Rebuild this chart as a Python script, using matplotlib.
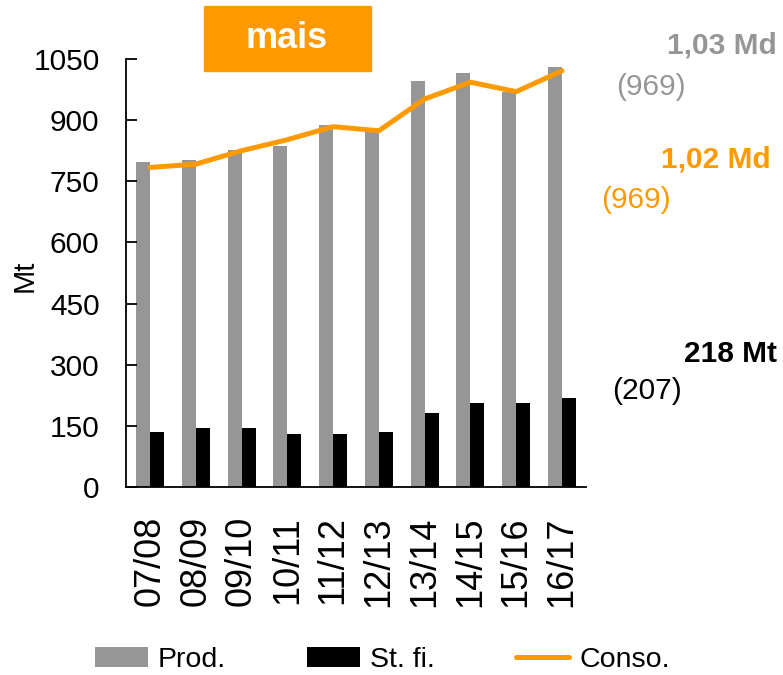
import matplotlib
matplotlib.use("Agg")
import matplotlib.pyplot as plt
import numpy as np
from matplotlib.patches import Rectangle

plt.rcParams['font.family'] = ['Liberation Sans', 'DejaVu Sans']

categories = ["07/08", "08/09", "09/10", "10/11", "11/12", "12/13", "13/14", "14/15", "15/16", "16/17"]
prod = [797, 802, 826, 837, 888, 876, 996, 1015, 970, 1030]
stocks = [135, 145, 145, 130, 130, 135, 182, 207, 207, 218]
conso = [784, 792, 825, 852, 884, 874, 952, 993, 970, 1021]
yticks = [0, 150, 300, 450, 600, 750, 900, 1050]

GRAY = "#969696"
ORANGE = "#FF9900"

W, H = 783, 675
fig = plt.figure(figsize=(W / 100, H / 100), dpi=100)
ax = fig.add_axes([126 / W, 1 - 487 / H, (586 - 126) / W, (487 - 59) / H])

x = np.arange(len(categories))
bw = 0.306
b1 = ax.bar(x - bw / 2, prod, width=bw, color=GRAY, label="Prod.")
b2 = ax.bar(x + bw / 2, stocks, width=bw, color="black", label="St. fi.")
l1, = ax.plot(x, conso, color=ORANGE, lw=3.6, label="Conso.", solid_capstyle="round")

ax.set_xlim(-0.524, 9.524)
ax.set_ylim(0, 1050)
ax.set_yticks(yticks)
ax.set_yticklabels([str(v) for v in yticks], fontsize=21.5)
ax.set_xticks(x)
ax.set_xticklabels(categories, rotation=90, fontsize=26)
ax.tick_params(axis="y", direction="in", length=8, width=1.3, pad=19)
ax.tick_params(axis="x", length=0, pad=21)
for s in ["top", "right"]:
    ax.spines[s].set_visible(False)
for s in ["left", "bottom"]:
    ax.spines[s].set_linewidth(1.3)

fig.text(25 / W, 1 - 276 / H, "Mt", rotation=90, fontsize=21, ha="center", va="center")

# title box
fig.patches.append(Rectangle((204 / W, 1 - 71 / H), (371 - 204) / W, (71 - 6) / H,
                             transform=fig.transFigure, color=ORANGE, zorder=0))
fig.text(287 / W, 1 - 39 / H, "mais", fontsize=26, fontweight="bold", color="white",
         ha="center", va="center")

# annotations
fs = 21.5
fig.text(777 / W, 1 - 45 / H, "1,03 Md", fontsize=fs, fontweight="bold", color=GRAY, ha="right", va="center")
fig.text(686 / W, 1 - 87 / H, "(969)", fontsize=fs, color=GRAY, ha="right", va="center")
fig.text(771 / W, 1 - 160 / H, "1,02 Md", fontsize=fs, fontweight="bold", color=ORANGE, ha="right", va="center")
fig.text(671 / W, 1 - 200 / H, "(969)", fontsize=fs, color=ORANGE, ha="right", va="center")
fig.text(777 / W, 1 - 354 / H, "218 Mt", fontsize=fs, fontweight="bold", color="black", ha="right", va="center")
fig.text(682 / W, 1 - 391 / H, "(207)", fontsize=fs, color="black", ha="right", va="center")

leg = fig.legend(handles=[b1, b2, l1], loc="center left", bbox_to_anchor=(95 / W, 1 - 660 / H),
                 ncol=3, frameon=False, fontsize=20.5, handlelength=1.86, handleheight=0.7,
                 handletextpad=0.35, columnspacing=2.85, borderpad=0, borderaxespad=0)

fig.savefig("out.png", dpi=100)
